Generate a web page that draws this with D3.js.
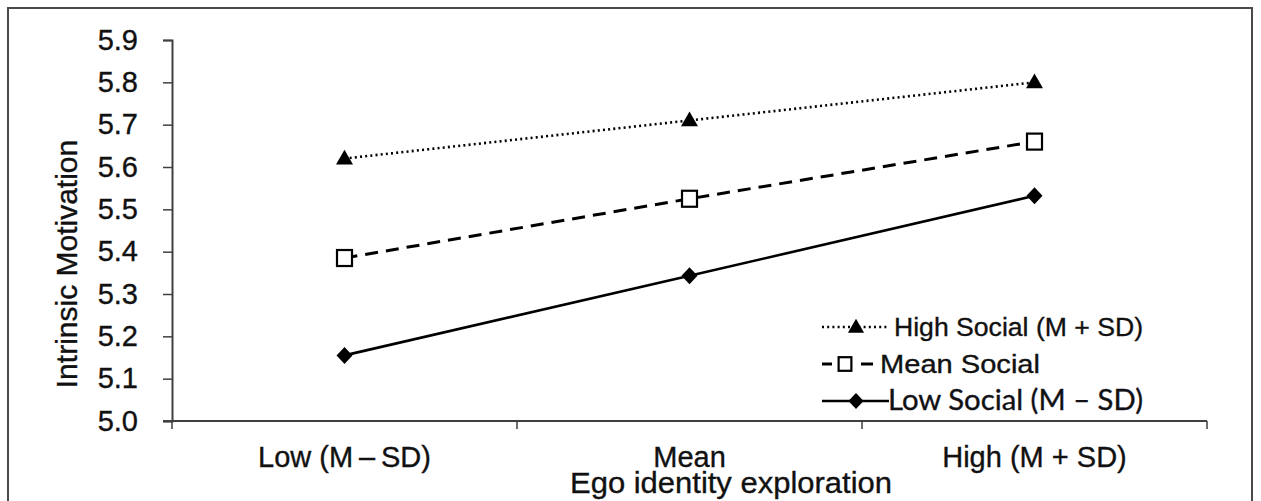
<!DOCTYPE html>
<html>
<head>
<meta charset="utf-8">
<script src="https://cdn.jsdelivr.net/npm/d3@7"></script>
<style>
  html, body { margin: 0; padding: 0; background: #fff; }
  svg { display: block; }
  text { font-family: "Liberation Sans", Arial, sans-serif; fill: #111; stroke: #111; stroke-width: 0.35px; }
</style>
</head>
<body>
<svg id="chart" width="1261" height="501"></svg>
<script>
// ---- data ----
const categories = ["Low (M\u2009\u2013\u2009SD)", "Mean", "High (M + SD)"];
const seriesNames = ["High Social (M + SD)", "Mean Social", "Low Social (M \u2013 SD)"];
const highSocial = [5.62, 5.71, 5.80];
const meanSocial = [5.385, 5.525, 5.66];
const lowSocial = [5.155, 5.343, 5.532];
const yTicks = [5.0, 5.1, 5.2, 5.3, 5.4, 5.5, 5.6, 5.7, 5.8, 5.9];
const xTitle = "Ego identity exploration";
const yTitle = "Intrinsic Motivation";

(function () {
const svg = d3.select("#chart");

// frame
svg.append("rect").attr("x", 8).attr("y", 8).attr("width", 1244).attr("height", 520)
  .attr("fill", "none").attr("stroke", "#4a4a4a").attr("stroke-width", 2);

const pL = 172, pR = 1207, pT = 40, pB = 421;
const x = d3.scaleBand().domain(categories).range([pL, pR]).padding(0);
const cx = d => x(d) + x.bandwidth() / 2;
const y = d3.scaleLinear().domain([5.0, 5.9]).range([pB, pT]);

// y axis
const yAxis = d3.axisLeft(y).tickValues(yTicks).tickFormat(d3.format(".1f")).tickSize(9).tickPadding(25);
const gy = svg.append("g").attr("transform", `translate(${pL},0)`).call(yAxis);
gy.select(".domain").attr("stroke", "#404040").attr("stroke-width", 2);
gy.selectAll(".tick line").attr("stroke", "#404040").attr("stroke-width", 1.5);
gy.selectAll(".tick text").style("font-size", "29px").style("font-family", '"Liberation Sans", Arial, sans-serif')
  .attr("fill", "#111").style("stroke", "#111").style("stroke-width", "0.35px");

// x axis line + boundary ticks
const gx = svg.append("g");
gx.append("line").attr("x1", pL - 9).attr("x2", pR).attr("y1", pB).attr("y2", pB)
  .attr("stroke", "#404040").attr("stroke-width", 2);
const bounds = categories.map(c => x(c)).concat([x.range()[1]]);
gx.selectAll("line.tk").data(bounds).enter().append("line").attr("class", "tk")
  .attr("x1", d => d).attr("x2", d => d).attr("y1", pB).attr("y2", pB + 8)
  .attr("stroke", "#404040").attr("stroke-width", 1.5);
gx.selectAll("text.cat").data(categories).enter().append("text").attr("class", "cat")
  .attr("x", d => cx(d)).attr("y", 467).attr("text-anchor", "middle")
  .style("font-size", "29px").text(d => d);

// axis titles
svg.append("text").attr("x", 731).attr("y", 493).attr("text-anchor", "middle")
  .style("font-size", "30px").attr("textLength", 322).attr("lengthAdjust", "spacingAndGlyphs").text(xTitle);
svg.append("text").attr("transform", "translate(77,264) rotate(-90)").attr("text-anchor", "middle")
  .style("font-size", "30px").text(yTitle);

// series
const series = [
  { name: seriesNames[0], values: highSocial, dash: "2,3.2", width: 2.6, marker: "triangle" },
  { name: seriesNames[1], values: meanSocial, dash: "13,8", width: 3, marker: "square" },
  { name: seriesNames[2], values: lowSocial, dash: null, width: 2.6, marker: "diamond" }
];
const line = d3.line().x((d, i) => cx(categories[i])).y(d => y(d));

function drawMarker(g, type, px, py, sc) {
  sc = sc || 1;
  if (type === "triangle") {
    g.append("path").attr("d", d3.symbol(d3.symbolTriangle, 125 * sc * sc)()).attr("transform", `translate(${px},${py + 1})`)
      .attr("fill", "#000");
  } else if (type === "square") {
    g.append("rect").attr("x", px - 7.5 * sc).attr("y", py - 8 * sc).attr("width", 15 * sc).attr("height", 16 * sc)
      .attr("fill", "#fff").attr("stroke", "#000").attr("stroke-width", 2.2);
  } else {
    g.append("path").attr("d", `M${px},${py - 8.5 * sc}L${px + 8 * sc},${py}L${px},${py + 8.5 * sc}L${px - 8 * sc},${py}Z`)
      .attr("fill", "#000");
  }
}

series.forEach(s => {
  const g = svg.append("g");
  g.append("path").datum(s.values).attr("d", line).attr("fill", "none").attr("stroke", "#000")
    .attr("stroke-width", s.width).attr("stroke-dasharray", s.dash);
  s.values.forEach((v, i) => drawMarker(g, s.marker, cx(categories[i]), y(v)));
});

// legend
const legY = [327, 364, 401];
const legX = [894, 880, 888];
const legLen = [249, 160, 255];
series.forEach((s, i) => {
  const g = svg.append("g");
  const ly = legY[i];
  if (s.marker === "square") {
    g.append("line").attr("x1", 822).attr("x2", 832).attr("y1", ly).attr("y2", ly).attr("stroke", "#000").attr("stroke-width", 3);
    g.append("line").attr("x1", 861).attr("x2", 873).attr("y1", ly).attr("y2", ly).attr("stroke", "#000").attr("stroke-width", 3);
    drawMarker(g, s.marker, 845, ly, 0.85);
  } else {
    g.append("line").attr("x1", 822).attr("x2", 889).attr("y1", ly).attr("y2", ly).attr("stroke", "#000")
      .attr("stroke-width", s.width).attr("stroke-dasharray", s.dash);
    drawMarker(g, s.marker, 856, ly, 0.95);
  }
  const t = g.append("text").attr("x", legX[i]).attr("y", ly + 9)
    .attr("textLength", legLen[i]).attr("lengthAdjust", "spacingAndGlyphs").text(s.name);
  if (i === 2) {
    t.style("font-family", "Lato, 'Open Sans', sans-serif").style("font-size", "28px")
      .attr("fill", "#141428").style("stroke", "#141428");
  } else {
    t.style("font-size", "26px");
  }
});
})();
</script>
</body>
</html>
